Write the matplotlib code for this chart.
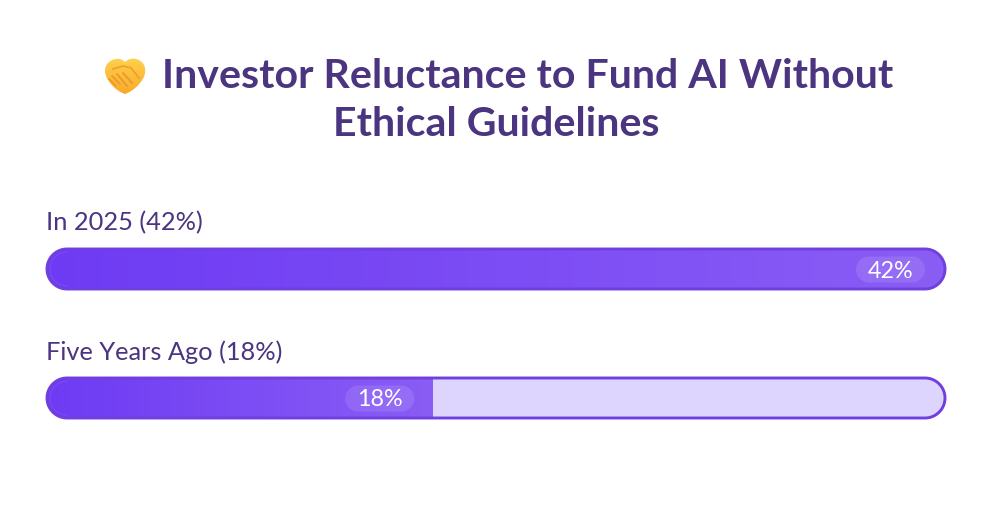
import numpy as np
import matplotlib
matplotlib.use('Agg')
import matplotlib.pyplot as plt
from matplotlib.colors import LinearSegmentedColormap
from matplotlib.patches import Polygon, PathPatch
from matplotlib.path import Path

title_lines = ['Investor Reluctance to Fund AI Without', 'Ethical Guidelines']
categories = ['In 2025', 'Five Years Ago']
values = [42, 18]
scale_max = max(values)

W, H = 993, 505
plt.rcParams['font.family'] = ['Lato', 'DejaVu Sans']

fig = plt.figure(figsize=(W / 100, H / 100), dpi=100, facecolor='white')
ax = fig.add_axes([0, 0, 1, 1])
ax.set_axis_off()

ink = '#4b3480'
border = '#6f3fe0'
track = '#ddd5fd'
grad = LinearSegmentedColormap.from_list('fill', ['#6e3bf3', '#8a5df5'])
gold = LinearSegmentedColormap.from_list('gold', ['#ffd24d', '#f9a92a'])

bar_left, bar_w, bar_h = 47, 898, 40
bar_tops = [249, 378]
inner = 2


def stadium(x, y, w, h, **kw):
    # real circular ends, FancyBboxPatch corners come out too square
    r = h / 2
    t = np.linspace(-np.pi / 2, np.pi / 2, 40)
    right = np.column_stack([x + w - r + r * np.cos(t), y + r + r * np.sin(t)])
    left = np.column_stack([x + r - r * np.cos(t), y + r - r * np.sin(t)])
    return Polygon(np.vstack([right, left]), closed=True, **kw)


for cat, val, top in zip(categories, values, bar_tops):
    ax.text(bar_left - 1, top - 26, '%s (%d%%)' % (cat, val), fontsize=18.3, color=ink,
            va='center', ha='left')

    ax.add_patch(stadium(bar_left, top, bar_w, bar_h, fc=track, ec='none', zorder=1))

    # gradient runs over the filled part only, clipped by the track shape
    fill_w = (bar_w - 2 * inner) * val / scale_max + inner + 0.5
    im = ax.imshow(np.linspace(0, 1, 256).reshape(1, -1), cmap=grad, aspect='auto',
                   extent=(bar_left, bar_left + fill_w, top + bar_h, top), zorder=2)
    clip = stadium(bar_left, top, bar_w, bar_h, fc='none', ec='none')
    ax.add_patch(clip)
    im.set_clip_path(clip)

    # faint inner ring at the left end
    t = np.linspace(np.pi / 2, 3 * np.pi / 2, 30)
    ax.plot(bar_left + bar_h / 2 + 17 * np.cos(t), top + bar_h / 2 + 17 * np.sin(t),
            color='white', alpha=0.08, lw=0.8, zorder=3)

    ax.add_patch(stadium(bar_left, top, bar_w, bar_h, fc='none', ec=border, lw=2.1, zorder=4))

    # value pill sits at the right end of the fill
    pill_right = bar_left + fill_w - 18.5
    ax.add_patch(stadium(pill_right - 69, top + 7.5, 69, 26, fc='white', ec='none', alpha=0.11,
                         zorder=3))
    ax.text(pill_right - 34.5, top + 22, '%d%%' % val, fontsize=16.8, color='white',
            ha='center', va='center', zorder=5)

# title
ax.text(528, 76.5, title_lines[0], fontsize=29.6, fontweight='bold', color=ink,
        ha='center', va='center')
ax.text(496, 124.5, title_lines[1], fontsize=29.6, fontweight='bold', color=ink,
        ha='center', va='center')

# handshake emoji drawn by hand, no emoji font available
cx, cy = 125, 75
heart = Path([(cx, cy + 19), (cx - 10, cy + 16), (cx - 20, cy + 4), (cx - 20, cy - 4),
              (cx - 20, cy - 14), (cx - 10, cy - 17), (cx - 5, cy - 16),
              (cx - 2, cy - 15), (cx, cy - 13), (cx, cy - 13),
              (cx + 3, cy - 16), (cx + 8, cy - 17), (cx + 11, cy - 16),
              (cx + 18, cy - 14), (cx + 21, cy - 9), (cx + 20, cy - 2),
              (cx + 19, cy + 6), (cx + 9, cy + 16), (cx, cy + 19)],
             [Path.MOVETO] + [Path.CURVE4] * 18)
hand = PathPatch(heart, fc='none', ec='none')
ax.add_patch(hand)
im = ax.imshow(np.linspace(0, 1, 64).reshape(-1, 1), cmap=gold, aspect='auto',
               extent=(cx - 21, cx + 21, cy + 20, cy - 18), zorder=2)
im.set_clip_path(hand)
for x0, y0, x1, y1 in [(cx - 13, cy + 1, cx - 5, cy + 9), (cx - 8, cy - 1, cx + 2, cy + 11),
                       (cx - 2, cy - 2, cx + 7, cy + 8), (cx - 16, cy + 4, cx - 9, cy + 11)]:
    ax.plot([x0, x1], [y0, y1], color='#ee9a2a', lw=1.4, zorder=3, solid_capstyle='round')
ax.plot([cx - 12, cx - 2, cx + 6, cx + 14], [cy - 6, cy - 9, cy - 7, cy + 3], color='#f0a030',
        lw=1.3, zorder=3)

ax.set_xlim(0, W)
ax.set_ylim(H, 0)
fig.savefig('out.png', dpi=100, facecolor='white')
